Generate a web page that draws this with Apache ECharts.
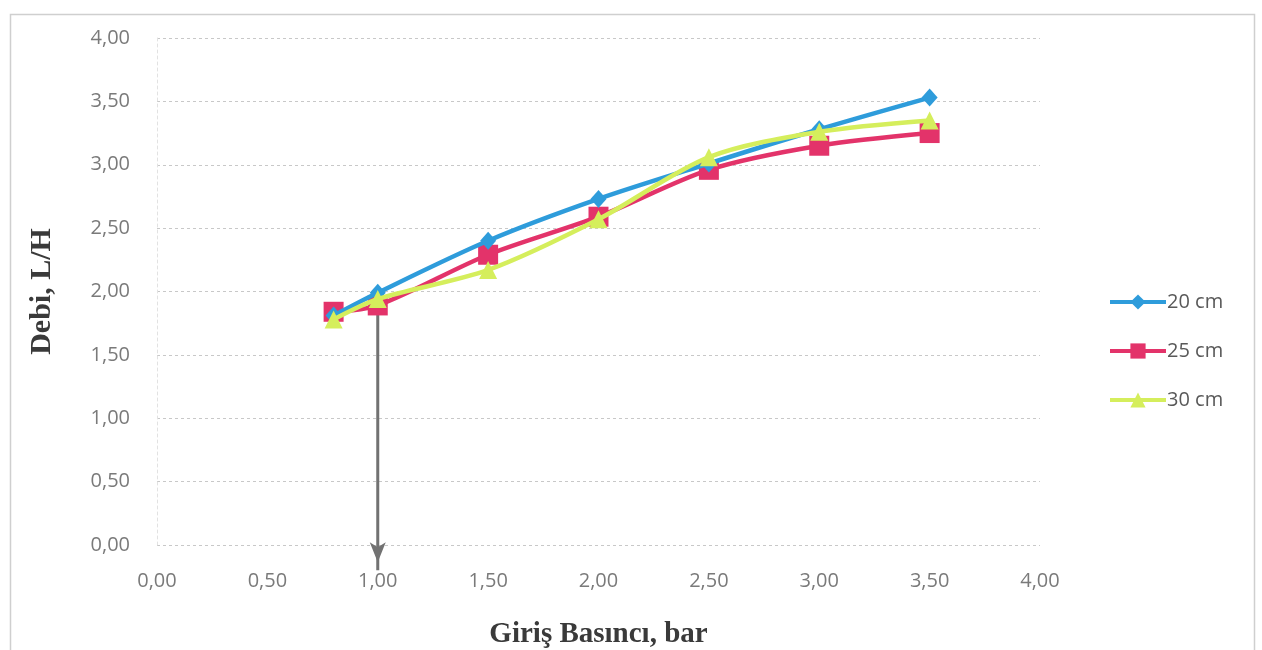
<!DOCTYPE html>
<html>
<head>
<meta charset="utf-8">
<script src="https://cdn.jsdelivr.net/npm/echarts@6/dist/echarts.min.js"></script>
<style>html,body{margin:0;padding:0;background:#fff;overflow:hidden;}#c{width:1262px;height:650px;}</style>
</head>
<body>
<div id="c"></div>
<script>
const xValues = [0.8, 1.0, 1.5, 2.0, 2.5, 3.0, 3.5];
const s20 = [1.81, 1.99, 2.40, 2.73, 3.01, 3.28, 3.53];
const s25 = [1.84, 1.89, 2.29, 2.59, 2.96, 3.15, 3.25];
const s30 = [1.78, 1.94, 2.17, 2.57, 3.06, 3.26, 3.35];
const seriesNames = ['20 cm', '25 cm', '30 cm'];
const arrowX = 1.0;
const arrowFromY = 1.88;
const arrowToY = -0.2;
const xTitle = 'Giriş Basıncı, bar';
const yTitle = 'Debi, L/H';

const pairs = arr => xValues.map((x, i) => [x, arr[i]]);
const fmt = v => v.toFixed(2).replace('.', ',');
const labelFont = '"Open Sans", Lato, sans-serif';
const titleFont = '"Liberation Serif", "DejaVu Serif", serif';

const chart = echarts.init(document.getElementById('c'));
chart.setOption({
  animation: false,
  backgroundColor: '#fff',
  grid: { left: 157, right: 222, top: 38, bottom: 105, containLabel: false, outerBoundsMode: 'none' },
  xAxis: {
    type: 'value', min: 0, max: 4, interval: 0.5,
    axisLine: { show: false }, axisTick: { show: false },
    splitLine: { show: false },
    axisLabel: { formatter: fmt, color: '#7a7a7a', fontSize: 20, fontFamily: labelFont, margin: 26 },
    name: xTitle, nameLocation: 'middle', nameGap: 75,
    nameTextStyle: { fontFamily: titleFont, fontWeight: 'bold', fontSize: 29, color: '#3a3a3a' }
  },
  yAxis: {
    type: 'value', min: 0, max: 4, interval: 0.5,
    axisLine: { show: true, lineStyle: { color: '#e2e2e2', type: [3, 3], width: 1 } },
    axisTick: { show: false },
    splitLine: { show: true, lineStyle: { color: '#c8c8c8', type: [3, 3], width: 1 } },
    axisLabel: { formatter: fmt, color: '#7a7a7a', fontSize: 20, fontFamily: labelFont, margin: 27 },
    name: yTitle, nameLocation: 'middle', nameGap: 100, nameRotate: 90,
    nameTextStyle: { fontFamily: titleFont, fontWeight: 'bold', fontSize: 30, color: '#3a3a3a' }
  },
  legend: {
    orient: 'vertical', left: 1103, top: 287,
    itemWidth: 56, itemHeight: 19, itemGap: 29,
    lineStyle: { width: 4 },
    textStyle: { fontSize: 20, color: '#595959', fontFamily: labelFont, padding: [0, 0, 0, -4] },
    data: seriesNames
  },
  series: [
    {
      name: seriesNames[0], type: 'line', data: pairs(s20), smooth: 0.3,
      symbol: 'diamond', symbolSize: [16, 18], z: 3,
      lineStyle: { width: 4.5, color: '#2E9CDB' }, itemStyle: { color: '#2E9CDB' }
    },
    {
      name: seriesNames[1], type: 'line', data: pairs(s25), smooth: 0.3,
      symbol: 'rect', symbolSize: 20, z: 2,
      lineStyle: { width: 4.5, color: '#E3336A' }, itemStyle: { color: '#E3336A' }
    },
    {
      name: seriesNames[2], type: 'line', data: pairs(s30), smooth: 0.3,
      symbol: 'triangle', symbolSize: 18, z: 4,
      lineStyle: { width: 4.5, color: '#D5EE5C' }, itemStyle: { color: '#D5EE5C' }
    },
    {
      name: 'arrow', type: 'line', clip: false, z: 1, silent: true,
      symbol: 'none', showSymbol: true,
      lineStyle: { width: 3, color: '#727272' }, itemStyle: { color: '#727272' },
      data: [
        { value: [arrowX, arrowFromY], symbol: 'none' },
        { value: [arrowX, arrowToY], symbol: 'arrow', symbolSize: [12, 20], symbolRotate: 180, symbolOffset: [0, -8] }
      ]
    }
  ],
  graphic: [{
    type: 'rect', left: 8, top: 12, shape: { width: 1244, height: 640 },
    style: { fill: 'none', stroke: '#cfcfcf', lineWidth: 1.5 }, silent: true
  }]
});
</script>
</body>
</html>
